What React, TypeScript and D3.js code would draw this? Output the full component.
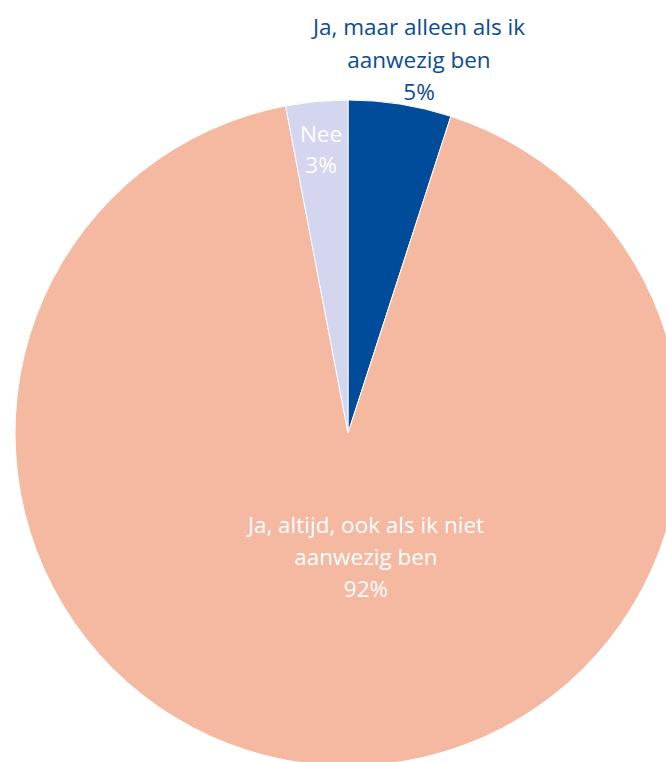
import React from "react";
import * as d3 from "d3";

const categories = ["Ja, maar alleen als ik aanwezig ben", "Ja, altijd, ook als ik niet aanwezig ben", "Nee"];
const values = [5, 92, 3];
const colors = ["#004C9B", "#F5B8A1", "#D3D6EE"];
const labelLines = [
  ["Ja, maar alleen als ik", "aanwezig ben", "5%"],
  ["Ja, altijd, ook als ik niet", "aanwezig ben", "92%"],
  ["Nee", "3%"],
];
const labelColors = ["#0B4C97", "#FFFFFF", "#FFFFFF"];

const W = 666, H = 762;
const cx = 348, cy = 433, R = 333;
// label anchor positions (center x, first baseline y) relative to chart center
const labelPos: [number, number][] = [
  [419 - cx, 35 - cy],
  [366 - cx, 533 - cy],
  [321 - cx, 142 - cy],
];
const lineH = [32.5, 32, 31];

export default function App() {
  const pie = d3.pie<number>().sort(null).value((d) => d)(values);
  const arc = d3.arc<d3.PieArcDatum<number>>().innerRadius(0).outerRadius(R);
  return (
    <svg width={W} height={H} style={{ position: "absolute", left: 0, top: 0 }}>
      <g transform={`translate(${cx},${cy})`}>
        {pie.map((p, i) => (
          <path key={categories[i]} d={arc(p) || ""} fill={colors[i]} stroke="#fff" strokeWidth={1} />
        ))}
        {labelLines.map((lines, i) => (
          <text
            key={i}
            textAnchor="middle"
            fontFamily="'Open Sans', sans-serif"
            fontSize={22.5}
            fill={labelColors[i]}
          >
            {lines.map((l, j) => (
              <tspan key={j} x={labelPos[i][0]} y={labelPos[i][1] + j * lineH[i]}>
                {l}
              </tspan>
            ))}
          </text>
        ))}
      </g>
    </svg>
  );
}
